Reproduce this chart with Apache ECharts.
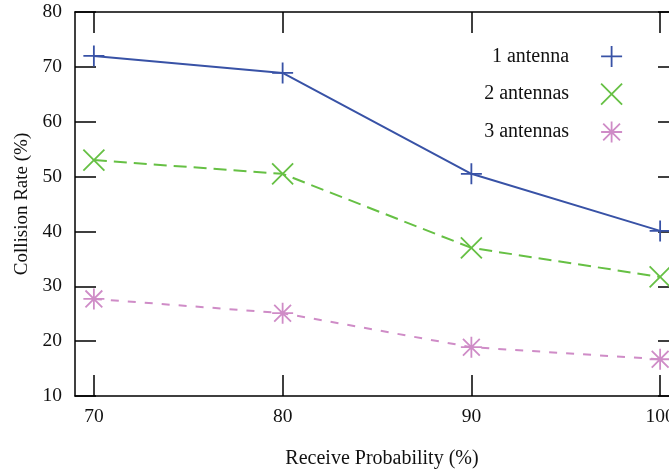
<!DOCTYPE html>
<html><head><meta charset="utf-8">
<script src="https://cdn.jsdelivr.net/npm/echarts@6/dist/echarts.min.js"></script>
<style>html,body{margin:0;padding:0;background:#fff}#c{width:669px;height:469px}</style>
</head><body><div id="c"></div>
<script>
const categories = [70, 80, 90, 100];
const seriesNames = ['1 antenna', '2 antennas', '3 antennas'];
const oneAntenna = [72.0, 68.9, 50.5, 40.1];
const twoAntennas = [53.0, 50.5, 37.0, 31.7];
const threeAntennas = [27.7, 25.1, 18.9, 16.7];
const yTicks = [10, 20, 30, 40, 50, 60, 70, 80];

const FONT = 'Liberation Serif';
const colors = ['#3852a6', '#66c044', '#cf8cc7'];
const symbols = [
  'path://M0,10L20,10M10,0L10,20',
  'path://M0,0L20,20M20,0L0,20',
  'path://M0,10L20,10M10,0L10,20M2,2L18,18M18,2L2,18'
];
const dashes = ['solid', [13, 7], [8, 9]];
const dataSets = [oneAntenna, twoAntennas, threeAntennas];

const chart = echarts.init(document.getElementById('c'));
const tickStyle = {show: true, inside: true, length: 21, lineStyle: {color: '#000', width: 1.5}};
chart.setOption({
  animation: false,
  grid: {left: 75, top: 12, width: 604, height: 384, outerBoundsMode: 'none', containLabel: false},
  legend: {
    orient: 'vertical',
    right: 41, top: 40,
    align: 'right',
    itemWidth: 21, itemHeight: 21,
    itemGap: 15,
    textStyle: {fontFamily: FONT, fontSize: 20, color: '#111', padding: [0, 27, 0, 0]},
    data: seriesNames.map((n, i) => ({
      name: n, icon: symbols[i],
      itemStyle: {color: 'transparent', borderColor: colors[i], borderWidth: 1.8}
    }))
  },
  xAxis: [{
    type: 'value', min: 69, max: 101,
    name: 'Receive Probability (%)', nameLocation: 'middle', nameGap: 53,
    nameTextStyle: {fontFamily: FONT, fontSize: 20, color: '#111', padding: [0, 0, 0, 10]},
    axisLine: {show: true, lineStyle: {color: '#000', width: 1.5}},
    axisTick: Object.assign({customValues: categories}, tickStyle),
    axisLabel: {customValues: categories, fontFamily: FONT, fontSize: 19.5, color: '#111', margin: 11},
    splitLine: {show: false}
  }, {
    type: 'value', min: 69, max: 101, position: 'top',
    axisLine: {show: true, lineStyle: {color: '#000', width: 1.5}},
    axisTick: Object.assign({customValues: categories}, tickStyle),
    axisLabel: {show: false},
    splitLine: {show: false}
  }],
  yAxis: [{
    type: 'value', min: 10, max: 80, interval: 10,
    name: 'Collision Rate (%)', nameLocation: 'middle', nameGap: 41,
    nameTextStyle: {fontFamily: FONT, fontSize: 19, color: '#111'},
    axisLine: {show: true, lineStyle: {color: '#000', width: 1.5}},
    axisTick: tickStyle,
    axisLabel: {fontFamily: FONT, fontSize: 19.5, color: '#111', margin: 13,
      formatter: v => yTicks.includes(v) ? String(v) : ''},
    splitLine: {show: false}
  }, {
    type: 'value', min: 10, max: 80, interval: 10, position: 'right',
    axisLine: {show: true, lineStyle: {color: '#000', width: 1.5}},
    axisTick: tickStyle,
    axisLabel: {show: false},
    splitLine: {show: false}
  }],
  series: seriesNames.map((n, i) => ({
    name: n, type: 'line',
    data: categories.map((c, j) => [c, dataSets[i][j]]),
    symbol: symbols[i], symbolSize: 21,
    itemStyle: {color: 'transparent', borderColor: colors[i], borderWidth: 1.8},
    lineStyle: {color: colors[i], width: 2, type: dashes[i]},
    emphasis: {disabled: true}
  }))
});
</script></body></html>
